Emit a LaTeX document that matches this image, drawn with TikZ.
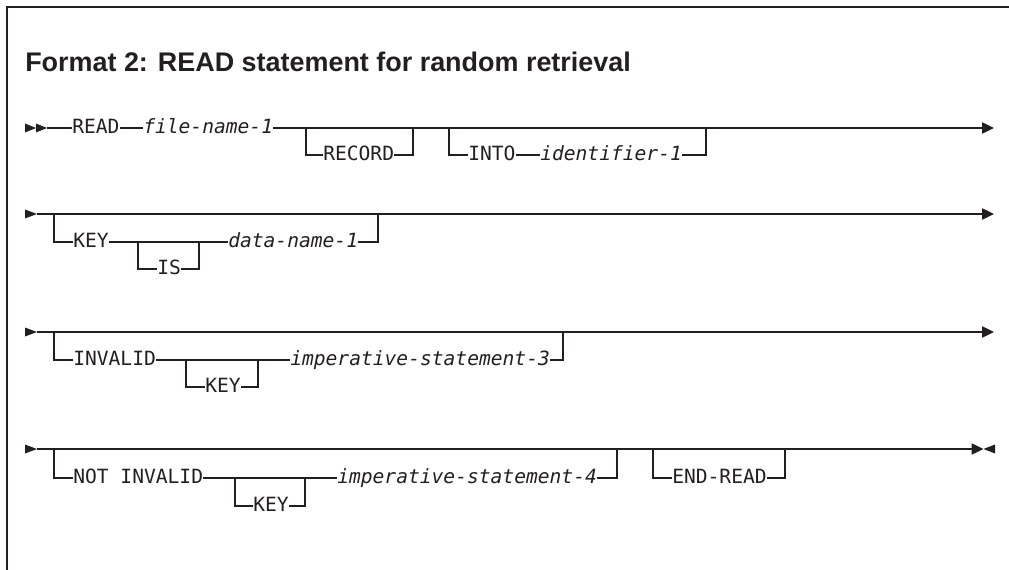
\documentclass[tikz,border=0pt]{standalone}
\usepackage{fontspec}
\setsansfont{Liberation Sans}
\setmonofont{DejaVu Sans Mono}
\usetikzlibrary{arrows.meta}
\definecolor{railink}{HTML}{231F20}

\begin{document}
\begin{tikzpicture}[x=0.75pt,y=-0.75pt,
  font=\fontsize{14.7}{17}\selectfont\ttfamily,
  kw/.style={inner sep=0pt,text height=10.7pt,text depth=2.3pt,anchor=west,text=railink},
  var/.style={kw,font=\fontsize{14.7}{17}\selectfont\ttfamily\itshape},
  rail/.style={draw=railink,line width=0.95pt},
  endarr/.style={rail,-{Triangle[length=9pt,width=8.5pt]}},
  railtip/.style={fill=railink},
  frame/.style={draw=railink,line width=1.1pt}
]
\useasboundingbox (0,0) rectangle (1009,570);
\draw[frame] (1009,7) -- (7,7) -- (7,570);
\node[anchor=base west,inner sep=0pt,text=railink,font=\fontsize{20.2}{24}\selectfont\sffamily\bfseries] (title) at (25,71.7) {Format 2: READ statement for random retrieval};

% row 1
\fill[railtip] (25,123.5) -- (36,128) -- (25,132.5) -- cycle;
\fill[railtip] (36,123.5) -- (47,128) -- (36,132.5) -- cycle;
\coordinate (s1) at (47,128);
\coordinate (e1) at (994,128);
\node[kw] (read) at (72,128) {READ};
\node[var] (fname) at (143,128) {file-name-1};
\node[kw] (record) at (323,155) {RECORD};
\node[kw] (into) at (468,155) {INTO};
\node[var] (ident) at (540,155) {identifier-1};
\coordinate (r1a) at (306,128);
\coordinate (r1b) at (413,128);
\coordinate (i1a) at (449,128);
\coordinate (i1b) at (706,128);
\draw[rail] (s1) -- (read);
\draw[rail] (read) -- (fname);
\draw[endarr] (fname) -- (e1);
\draw[rail] (r1a) |- (record) -| (r1b);
\draw[rail] (i1a) |- (into);
\draw[rail] (into) -- (ident);
\draw[rail] (ident) -| (i1b);

% row 2
\fill[railtip] (25,209.5) -- (37,214) -- (25,218.5) -- cycle;
\coordinate (s2) at (37,214);
\coordinate (e2) at (994,214);
\node[kw] (key) at (73,242) {KEY};
\node[kw] (is) at (157,269) {IS};
\node[var] (dname) at (228,242) {data-name-1};
\coordinate (k2a) at (54,214);
\coordinate (k2b) at (378,214);
\coordinate (is2a) at (138,242);
\coordinate (is2b) at (199,242);
\draw[endarr] (s2) -- (e2);
\draw[rail] (k2a) |- (key);
\draw[rail] (key) -- (dname);
\draw[rail] (dname) -| (k2b);
\draw[rail] (is2a) |- (is) -| (is2b);

% row 3
\fill[railtip] (25,327.5) -- (37,332) -- (25,336.5) -- cycle;
\coordinate (s3) at (37,332);
\coordinate (e3) at (994,332);
\node[kw] (inval) at (73,360) {INVALID};
\node[kw] (key3) at (205,387) {KEY};
\node[var] (imp3) at (290,360) {imperative-statement-3};
\coordinate (v3a) at (54,332);
\coordinate (v3b) at (563,332);
\coordinate (k3a) at (186,360);
\coordinate (k3b) at (258,360);
\draw[endarr] (s3) -- (e3);
\draw[rail] (v3a) |- (inval);
\draw[rail] (inval) -- (imp3);
\draw[rail] (imp3) -| (v3b);
\draw[rail] (k3a) |- (key3) -| (k3b);

% row 4
\fill[railtip] (25,444.5) -- (37,449) -- (25,453.5) -- cycle;
\coordinate (s4) at (37,449);
\coordinate (e4) at (983.5,449);
\node[kw] (notinv) at (73,478) {NOT INVALID};
\node[kw] (key4) at (253,506) {KEY};
\node[var] (imp4) at (337,478) {imperative-statement-4};
\node[kw] (endread) at (672,478) {END-READ};
\coordinate (n4a) at (54,449);
\coordinate (n4b) at (617,449);
\coordinate (k4a) at (235,478);
\coordinate (k4b) at (305,478);
\coordinate (d4a) at (653,449);
\coordinate (d4b) at (785,449);
\draw[endarr] (s4) -- (e4);
\fill[railtip] (995,444.5) -- (983.5,449) -- (995,453.5) -- cycle;
\draw[rail] (n4a) |- (notinv);
\draw[rail] (notinv) -- (imp4);
\draw[rail] (imp4) -| (n4b);
\draw[rail] (k4a) |- (key4) -| (k4b);
\draw[rail] (d4a) |- (endread) -| (d4b);
\end{tikzpicture}
\end{document}
